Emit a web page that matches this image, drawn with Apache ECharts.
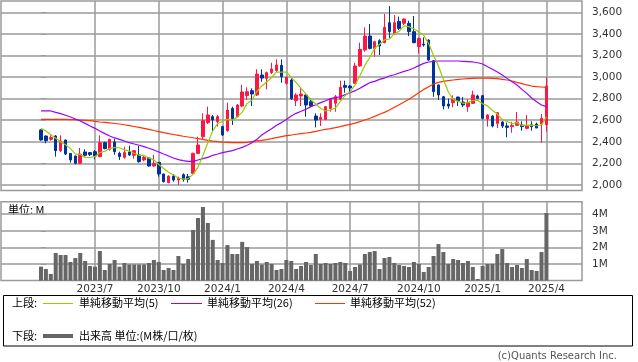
<!DOCTYPE html>
<html><head><meta charset="utf-8">
<script src="https://cdn.jsdelivr.net/npm/echarts@6/dist/echarts.min.js"></script>
<style>html,body{margin:0;padding:0;background:#fff}#c{width:638px;height:362px}</style>
</head><body><div id="c"></div>
<script>
// Weekly bars, index 0 = week of 2023-04-17, index 103 = week of 2025-04-07
const monthTickIndex = [11, 24, 37, 50, 63, 77, 90, 103];
const monthTickLabels = ['2023/7', '2023/10', '2024/1', '2024/4', '2024/7', '2024/10', '2025/1', '2025/4'];
const priceTicks = [2000, 2200, 2400, 2600, 2800, 3000, 3200, 3400, 3600];
const volumeTicks = [1, 2, 3, 4];

const open = [2510,2454,2423,2454,2318,2417,2293,2269,2201,2306,
  2300,2309,2263,2392,2331,2398,2293,2256,2306,2275,
  2278,2232,2250,2176,2210,2102,2022,2083,2046,2096,
  2077,2108,2293,2448,2578,2633,2587,2541,2503,2710,
  2633,2732,2828,2874,2834,3019,2988,3041,3060,3109,
  2942,2973,2781,2825,2834,2772,2639,2608,2608,2710,
  2757,2794,2923,2917,2942,3103,3251,3380,3266,3337,
  3319,3504,3405,3516,3498,3498,3421,3282,3306,3343,
  3152,2927,2818,2750,2763,2815,2769,2726,2757,2825,
  2828,2612,2639,2571,2584,2547,2541,2553,2556,2525,
  2559,2565,2565,2559];
const close = [2417,2411,2439,2318,2408,2287,2232,2201,2287,2275,
  2281,2269,2392,2337,2423,2309,2263,2300,2278,2318,
  2216,2256,2176,2201,2102,2031,2083,2046,2062,2053,
  2053,2293,2371,2596,2649,2602,2633,2463,2695,2615,
  2741,2862,2865,2843,3028,2991,3041,3075,3112,3004,
  2998,2800,2834,2843,2741,2732,2602,2627,2726,2794,
  2818,2905,2905,2899,3103,3257,3380,3266,3328,3288,
  3461,3421,3504,3451,3538,3421,3319,3359,3297,3158,
  2865,2834,2732,2732,2797,2781,2741,2763,2834,2803,
  2618,2649,2547,2670,2547,2534,2553,2584,2541,2553,
  2541,2528,2618,2917];
const low = [2411,2386,2411,2263,2306,2278,2207,2192,2195,2263,
  2269,2238,2256,2331,2318,2281,2232,2244,2269,2244,
  2207,2219,2170,2170,2077,2022,2016,2031,2000,2031,
  2022,2102,2287,2423,2565,2494,2541,2454,2494,2556,
  2627,2720,2788,2732,2825,2957,2886,3028,3047,2948,
  2930,2788,2732,2732,2633,2720,2534,2547,2602,2679,
  2679,2788,2855,2855,2936,3096,3235,3257,3189,3204,
  3313,3359,3390,3436,3482,3380,3313,3220,3282,3152,
  2818,2788,2701,2707,2720,2732,2720,2679,2750,2794,
  2608,2541,2534,2528,2528,2442,2485,2547,2503,2516,
  2503,2528,2392,2494];
const high = [2516,2458,2460,2463,2460,2420,2295,2272,2343,2331,
  2306,2324,2460,2402,2429,2429,2309,2355,2364,2324,
  2361,2275,2256,2281,2213,2105,2090,2102,2077,2108,
  2102,2300,2448,2664,2726,2649,2649,2547,2763,2726,
  2750,2930,2905,2896,3072,3072,3050,3133,3164,3164,
  3004,2990,2849,2905,2837,2803,2664,2664,2732,2803,
  2834,2967,2967,2927,3133,3319,3461,3492,3337,3350,
  3584,3658,3575,3560,3544,3522,3566,3368,3368,3350,
  3158,2933,2825,2800,2831,2818,2815,2794,2874,2837,
  2834,2655,2646,2676,2590,2578,2584,2676,2590,2649,
  2590,2578,2658,2998];
// volume, millions of shares
const volume = [0.84,0.70,0.40,1.66,1.54,1.54,1.12,1.36,1.66,1.18,
  0.88,0.84,1.78,0.64,1.00,1.24,0.84,1.06,0.97,0.97,
  0.97,0.97,1.06,1.24,1.12,0.64,0.76,0.64,1.48,1.00,
  1.30,3.05,3.77,4.43,3.47,2.45,1.24,1.06,2.14,1.60,
  1.60,2.33,2.02,1.00,1.18,0.97,1.12,1.00,0.64,0.70,
  1.24,1.18,0.70,0.88,1.12,0.94,1.60,1.00,1.06,1.00,
  1.06,1.12,1.06,0.58,0.82,0.97,1.60,1.72,1.78,0.70,
  1.36,1.42,1.06,0.94,0.88,0.82,1.12,1.00,0.52,0.82,
  1.48,2.20,1.72,1.00,1.30,1.24,1.06,1.18,0.82,0.10,
  0.88,1.00,1.00,1.60,1.90,1.06,0.82,0.94,0.76,1.30,
  0.64,0.58,1.72,4.07];
const ma5 = [2525,2500,2466,2433,2399,2373,2337,2289,2283,2256,
  2255,2263,2301,2311,2340,2346,2345,2326,2315,2294,
  2275,2274,2249,2233,2190,2153,2119,2093,2065,2055,
  2059,2101,2166,2273,2392,2502,2570,2589,2608,2602,
  2629,2675,2756,2785,2868,2918,2954,2996,3049,3045,
  3046,2998,2950,2896,2843,2790,2750,2709,2686,2696,
  2713,2774,2830,2864,2926,3014,3109,3181,3267,3304,
  3345,3353,3400,3425,3475,3467,3447,3418,3387,3311,
  3200,3103,2977,2864,2792,2775,2757,2763,2783,2784,
  2752,2733,2690,2657,2606,2589,2570,2578,2552,2553,
  2554,2549,2556,2631];
const ma26 = [2686,2686,2686,2673,2661,2646,2630,2612,2593,2571,
  2547,2525,2500,2476,2454,2436,2423,2408,2392,2380,
  2368,2355,2340,2324,2306,2287,2269,2250,2235,2226,
  2219,2219,2232,2244,2256,2275,2287,2300,2309,2318,
  2334,2349,2368,2392,2423,2463,2494,2522,2553,2578,
  2608,2639,2664,2683,2701,2726,2744,2763,2781,2800,
  2809,2818,2837,2855,2874,2896,2923,2948,2960,2979,
  2991,3010,3022,3038,3053,3066,3084,3106,3127,3140,
  3146,3149,3149,3149,3149,3149,3146,3143,3140,3133,
  3121,3096,3072,3047,3019,2988,2957,2927,2886,2849,
  2806,2772,2741,2726];
const ma52 = [2608,2608,2608,2608,2608,2608,2605,2605,2602,2599,
  2596,2590,2584,2580,2575,2570,2565,2558,2550,2542,
  2534,2525,2516,2505,2495,2485,2476,2468,2460,2452,
  2445,2438,2430,2422,2414,2407,2402,2398,2395,2392,
  2392,2392,2395,2402,2408,2414,2420,2429,2439,2448,
  2457,2463,2470,2476,2482,2488,2497,2507,2516,2522,
  2531,2541,2553,2562,2574,2587,2602,2618,2636,2655,
  2673,2695,2720,2744,2769,2794,2825,2855,2886,2911,
  2936,2951,2960,2967,2973,2979,2982,2985,2988,2991,
  2991,2991,2988,2985,2979,2973,2964,2951,2939,2927,
  2917,2911,2908,2905];

const FONT = "'DejaVu Sans', 'Noto Sans CJK JP', sans-serif";
const JFONT = "'Noto Sans CJK JP', sans-serif";
const GRID = '#9a9a9a';
const UP = '#ff1744', DOWN = '#003399';
const C5 = '#99cc00', C26 = '#9900ff', C52 = '#ff3300';

const candleData = open.map((o, i) => [i, o, close[i], low[i], high[i]]);
const pair = arr => arr.map((v, i) => [i, v]);

const xLabel = v => { const i = monthTickIndex.indexOf(Math.round(v)); return i >= 0 ? monthTickLabels[i] : ''; };

const xBase = (g, showLabel) => ({
  gridIndex: g, type: 'value', min: -8.15, max: 110.25,
  axisLine: { show: false },
  axisTick: { show: false, customValues: monthTickIndex },
  axisLabel: { show: showLabel, customValues: monthTickIndex, formatter: xLabel,
    fontFamily: FONT, fontSize: 10.5, color: '#333', margin: 3 },
  splitLine: { show: true, lineStyle: { color: GRID, width: 1.5 } }
});

const chart = echarts.init(document.getElementById('c'));
chart.setOption({
  animation: false,
  backgroundColor: '#fff',
  grid: [
    { left: 1, top: 1, width: 581, height: 189.5, show: true, borderColor: GRID, borderWidth: 1.5, backgroundColor: 'transparent' },
    { left: 1, top: 201.7, width: 581, height: 78.9, show: true, borderColor: GRID, borderWidth: 1.5, backgroundColor: 'transparent' }
  ],
  xAxis: [xBase(0, false), xBase(1, true)],
  yAxis: [
    { gridIndex: 0, type: 'value', position: 'right', min: 1949, max: 3705,
      axisLine: { show: false },
      axisTick: { show: true, length: 5, customValues: priceTicks, lineStyle: { color: GRID } },
      axisLabel: { customValues: priceTicks, formatter: v => v.toLocaleString('en-US'),
        fontFamily: FONT, fontSize: 10.5, color: '#333', margin: 10 },
      splitLine: { show: true, lineStyle: { color: GRID, width: 1.5 } } },
    { gridIndex: 1, type: 'value', position: 'right', min: 0, max: 4.75,
      axisLine: { show: false },
      axisTick: { show: true, length: 5, customValues: volumeTicks, lineStyle: { color: GRID } },
      axisLabel: { customValues: volumeTicks, formatter: v => v + 'M',
        fontFamily: FONT, fontSize: 10.5, color: '#333', margin: 10 },
      splitLine: { show: true, lineStyle: { color: GRID, width: 1.5 } } }
  ],
  series: [
    { name: '株価', type: 'candlestick', xAxisIndex: 0, yAxisIndex: 0, data: candleData,
      barWidth: 3, clip: false, z: 2,
      itemStyle: { color: UP, color0: DOWN, borderColor: UP, borderColor0: DOWN, borderWidth: 1 } },
    { name: '単純移動平均(52)', type: 'line', xAxisIndex: 0, yAxisIndex: 0, data: pair(ma52),
      showSymbol: false, z: 3, lineStyle: { color: C52, width: 1.2 } },
    { name: '単純移動平均(26)', type: 'line', xAxisIndex: 0, yAxisIndex: 0, data: pair(ma26),
      showSymbol: false, z: 3, lineStyle: { color: C26, width: 1.2 } },
    { name: '単純移動平均(5)', type: 'line', xAxisIndex: 0, yAxisIndex: 0, data: pair(ma5),
      showSymbol: false, z: 4, lineStyle: { color: C5, width: 1.2 } },
    { name: '出来高', type: 'bar', xAxisIndex: 1, yAxisIndex: 1, data: pair(volume),
      barWidth: 4, itemStyle: { color: '#666666' } }
  ],
  graphic: [
    { type: 'text', left: 8, top: 204, style: { text: '単位: M', font: '11px ' + JFONT, fill: '#000' } },
    { type: 'rect', shape: { x: 3.5, y: 295.5, width: 629, height: 50.5 }, style: { fill: 'none', stroke: '#000', lineWidth: 1 } },
    { type: 'text', x: 12, y: 303, style: { text: '上段:', font: '11px ' + JFONT, fill: '#000', verticalAlign: 'middle' } },
    { type: 'line', shape: { x1: 43, y1: 303.5, x2: 73, y2: 303.5 }, style: { stroke: C5, lineWidth: 1 } },
    { type: 'text', x: 79, y: 303, style: { text: '単純移動平均(5)', font: '11px ' + JFONT, fill: '#000', verticalAlign: 'middle' } },
    { type: 'line', shape: { x1: 171, y1: 303.5, x2: 202, y2: 303.5 }, style: { stroke: C26, lineWidth: 1 } },
    { type: 'text', x: 207, y: 303, style: { text: '単純移動平均(26)', font: '11px ' + JFONT, fill: '#000', verticalAlign: 'middle' } },
    { type: 'line', shape: { x1: 315, y1: 303.5, x2: 345, y2: 303.5 }, style: { stroke: C52, lineWidth: 1 } },
    { type: 'text', x: 350, y: 303, style: { text: '単純移動平均(52)', font: '11px ' + JFONT, fill: '#000', verticalAlign: 'middle' } },
    { type: 'text', x: 12, y: 336, style: { text: '下段:', font: '11px ' + JFONT, fill: '#000', verticalAlign: 'middle' } },
    { type: 'line', shape: { x1: 43, y1: 336, x2: 73, y2: 336 }, style: { stroke: '#666', lineWidth: 4 } },
    { type: 'text', x: 79, y: 336, style: { text: '出来高 単位:(M株/口/枚)', font: '11px ' + JFONT, fill: '#000', verticalAlign: 'middle' } },
    { type: 'text', x: 617, y: 356, style: { text: '(c)Quants Research Inc.', font: '10px ' + FONT, fill: '#555', align: 'right', verticalAlign: 'middle' } }
  ]
});
</script>
</body></html>
